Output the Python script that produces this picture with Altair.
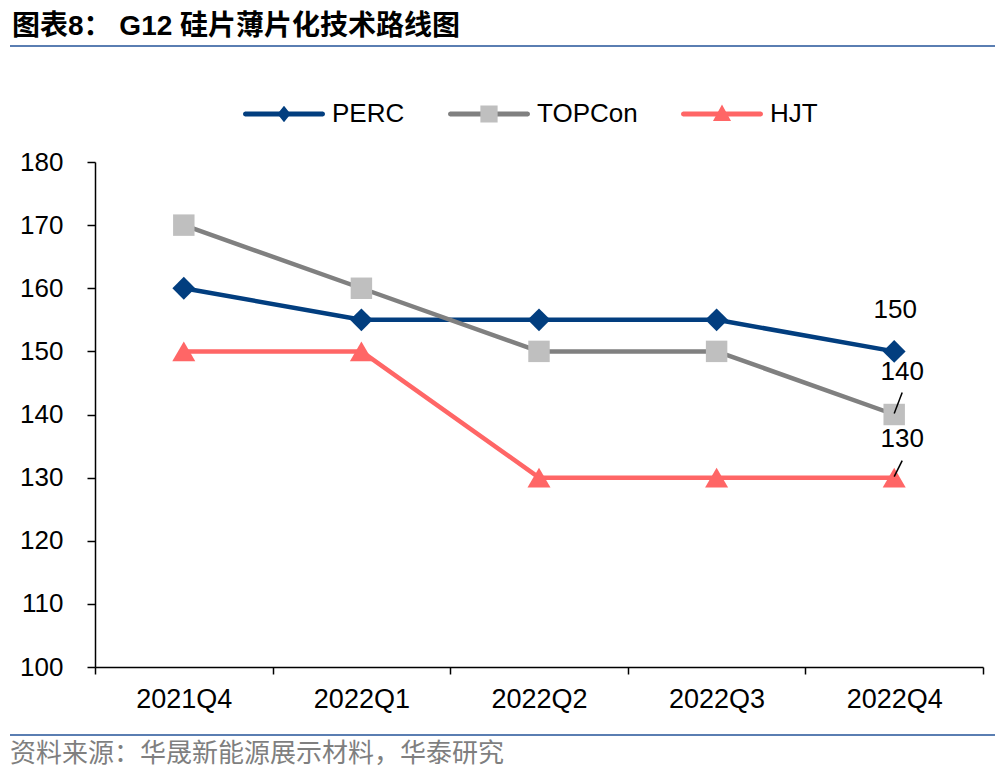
import altair as alt
import pandas as pd

# ---------------- data ----------------
CATEGORIES = ["2021Q4", "2022Q1", "2022Q2", "2022Q3", "2022Q4"]
SERIES = ["PERC", "TOPCon", "HJT"]
PERC = [160, 155, 155, 155, 150]
TOPCON = [170, 160, 150, 150, 140]
HJT = [150, 150, 130, 130, 130]
Y_TICKS = [100, 110, 120, 130, 140, 150, 160, 170, 180]

TITLE = "图表8： G12 硅片薄片化技术路线图"
SOURCE = "资料来源：华晟新能源展示材料，华泰研究"

# ---------------- styles ----------------
LINE_COLORS = ["#023E7F", "#808080", "#FF6666"]
MARKER_COLORS = ["#023E7F", "#BFBFBF", "#FF6666"]
MARKER_SHAPES = ["diamond", "square", "triangle-up"]
MARKER_SIZES = [520, 460, 530]
LABEL_OFFSETS = {"PERC": (1, -41), "TOPCon": (8, -43), "HJT": (8, -39)}
LEADERS = {"TOPCon": (8, -22), "HJT": (8, -17)}
RULE_COLOR = "#5A7EB2"
LATIN = "Liberation Sans"
CJK = "Noto Sans CJK SC"

W, H = 888, 505

values = {"PERC": PERC, "TOPCon": TOPCON, "HJT": HJT}
df = pd.DataFrame(
    [{"quarter": c, "series": s, "value": v}
     for s in SERIES for c, v in zip(CATEGORIES, values[s])]
)
legend_df = pd.DataFrame({"series": SERIES})
one = pd.DataFrame({"k": [0]})

x_enc = alt.X(
    "quarter:N",
    sort=CATEGORIES,
    scale=alt.Scale(domain=CATEGORIES, paddingInner=0, paddingOuter=0),
    axis=alt.Axis(
        title=None, labelAngle=0, tickBand="extent", tickSize=7,
        labelPadding=12, labelFontSize=27, labelFont=LATIN, labelColor="black",
        domainColor="black", tickColor="black", domainWidth=1.5, tickWidth=1.5,
        grid=False,
    ),
)
y_enc = alt.Y(
    "value:Q",
    scale=alt.Scale(domain=[100, 180], nice=False, zero=False),
    axis=alt.Axis(
        title=None, values=Y_TICKS, tickSize=8, labelPadding=24,
        labelFontSize=26, labelFont=LATIN, labelColor="black",
        domainColor="black", tickColor="black", domainWidth=1.5, tickWidth=1.5,
        grid=False,
    ),
)

layers = []
for i, s in enumerate(SERIES):
    base = alt.Chart(df).transform_filter(alt.datum.series == s)
    layers.append(
        base.mark_line(color=LINE_COLORS[i], strokeWidth=4.5, strokeCap="round",
                       strokeJoin="round").encode(x=x_enc, y=y_enc)
    )
    layers.append(
        base.mark_point(shape=MARKER_SHAPES[i], filled=True, opacity=1,
                        size=MARKER_SIZES[i], color=MARKER_COLORS[i],
                        strokeWidth=0).encode(x=x_enc, y=y_enc)
    )

# data labels at the last quarter
last = CATEGORIES[-1]
for s in SERIES:
    dx, dy = LABEL_OFFSETS[s]
    layers.append(
        alt.Chart(df).transform_filter(
            (alt.datum.series == s) & (alt.datum.quarter == last)
        ).mark_text(dx=dx, dy=dy, fontSize=26, font=LATIN, color="black",
                    align="center", baseline="middle")
        .encode(x=x_enc, y=y_enc, text="value:Q")
    )
for s, (ox, oy) in LEADERS.items():
    layers.append(
        alt.Chart(df).transform_filter(
            (alt.datum.series == s) & (alt.datum.quarter == last)
        ).mark_rule(color="black", strokeWidth=1.5, xOffset=0, yOffset=-1,
                    x2Offset=ox, y2Offset=oy)
        .encode(x=x_enc, y=y_enc, x2=alt.X2("quarter:N"), y2=alt.Y2("value:Q"))
    )

# legend (two overlapping legends: line segments + markers)
LINE_PATH = ("M-0.95,-0.061H0.95L0.99,-0.035L1,0L0.99,0.035L0.95,0.061"
             "H-0.95L-0.99,0.035L-1,0L-0.99,-0.035Z")
BOUNDS = "M-1,0H1"
LEGEND_MARKERS = [
    BOUNDS + "M0,-0.2L0.16,0L0,0.2L-0.16,0Z",
    BOUNDS + "M-0.21,-0.21H0.21V0.21H-0.21Z",
    BOUNDS + "M0,-0.23L0.22,0.17L-0.22,0.17Z",
]
common = dict(
    orient="none", legendX=148, legendY=-89, direction="horizontal", title=None,
    symbolSize=6724, symbolStrokeWidth=0, symbolOpacity=1, labelFontSize=26,
    labelFont=LATIN, labelColor="black", labelOffset=7, columnPadding=43,
    padding=0, labelLimit=400,
)
leg_lines = alt.Chart(legend_df).mark_point(filled=True, opacity=0).encode(
    fill=alt.Fill("series:N", scale=alt.Scale(domain=SERIES, range=LINE_COLORS),
                  legend=alt.Legend(symbolType=LINE_PATH, **common))
)
leg_marks = alt.Chart(legend_df).mark_point(filled=True, opacity=0).encode(
    fill=alt.Fill("series:N", scale=alt.Scale(domain=SERIES, range=MARKER_COLORS),
                  legend=alt.Legend(labelOpacity=0, **common)),
    shape=alt.Shape("series:N", scale=alt.Scale(domain=SERIES, range=LEGEND_MARKERS),
                    legend=alt.Legend(labelOpacity=0, **common)),
)
layers += [leg_lines, leg_marks]

# title, source and separator rules
layers.append(
    alt.Chart(one).mark_text(text=TITLE, align="left", baseline="middle",
                             fontSize=28, fontWeight="bold",
                             font=f'{LATIN}, "{CJK}"', color="black")
    .encode(x=alt.value(-83), y=alt.value(-135))
)
layers.append(
    alt.Chart(one).mark_text(text=SOURCE, align="left", baseline="middle",
                             fontSize=26, font=f'"{CJK}"', color="#7F7F7F")
    .encode(x=alt.value(-85), y=alt.value(592))
)
for yy in (-116, 573):
    layers.append(
        alt.Chart(one).mark_rule(color=RULE_COLOR, strokeWidth=2)
        .encode(x=alt.value(-85), x2=alt.value(905), y=alt.value(yy))
    )

chart = (
    alt.layer(*layers)
    .resolve_scale(fill="independent", shape="independent")
    .properties(
        width=W, height=H,
        autosize=alt.AutoSizeParams(type="none"),
        padding={"left": 87, "top": 154, "right": 12, "bottom": 105},
        background="white",
    )
    .configure_view(stroke=None)
)

chart.save("out.html", embed_options={"renderer": "svg", "actions": False})
